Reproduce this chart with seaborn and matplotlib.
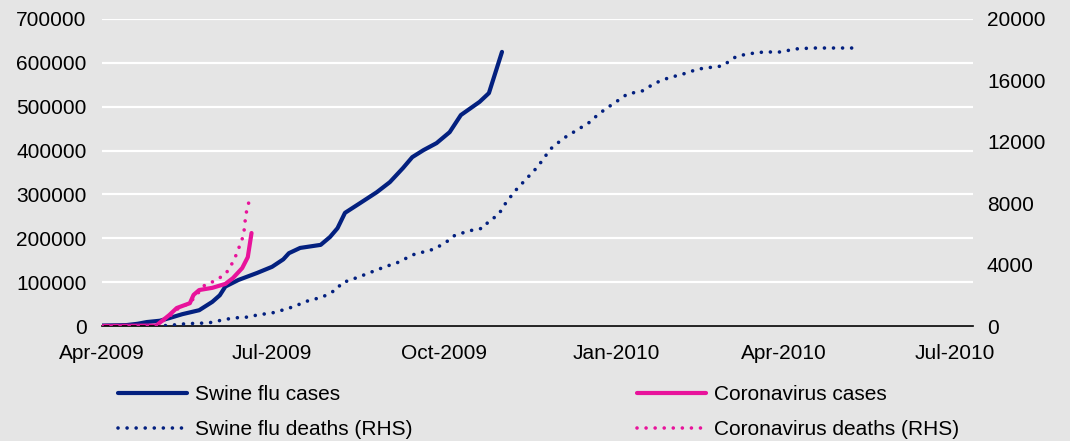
import pandas as pd
import numpy as np
import seaborn as sns
import matplotlib.pyplot as plt
import matplotlib.dates as mdates
from matplotlib.lines import Line2D

# Swine flu cases (LHS)
swine_case_dates = ["2009-04-01", "2009-04-14", "2009-04-20", "2009-04-25", "2009-05-02", "2009-05-07",
                    "2009-05-14", "2009-05-23", "2009-05-30", "2009-06-03", "2009-06-06", "2009-06-13",
                    "2009-06-23", "2009-07-01", "2009-07-07", "2009-07-10", "2009-07-16", "2009-07-27",
                    "2009-08-01", "2009-08-05", "2009-08-09", "2009-08-17", "2009-08-26", "2009-09-02",
                    "2009-09-09", "2009-09-14", "2009-09-20", "2009-09-27", "2009-10-04", "2009-10-10",
                    "2009-10-20", "2009-10-25", "2009-11-01"]
swine_cases = [1000, 2000, 5000, 9000, 12000, 18000, 27000, 36000, 55000, 70000, 90000, 105000,
               121000, 135000, 152000, 166000, 178000, 185000, 203000, 223000, 258000, 280000, 305000, 328000,
               360000, 385000, 401000, 417000, 442000, 481000, 511000, 531000, 625000]

# Swine flu deaths (RHS)
swine_death_dates = ["2009-04-01", "2009-04-30", "2009-05-07", "2009-05-16", "2009-05-28", "2009-06-02",
                     "2009-06-10", "2009-06-19", "2009-06-23", "2009-07-01", "2009-07-05", "2009-07-12",
                     "2009-07-20", "2009-07-28", "2009-08-05", "2009-08-07", "2009-08-12", "2009-08-19",
                     "2009-08-30", "2009-09-07", "2009-09-14", "2009-09-22", "2009-09-26", "2009-10-03",
                     "2009-10-06", "2009-10-14", "2009-10-22", "2009-10-25", "2009-10-30", "2009-11-03",
                     "2009-11-08", "2009-11-14", "2009-11-20", "2009-11-25", "2009-11-28", "2009-12-05",
                     "2009-12-12", "2009-12-19", "2009-12-22", "2009-12-28", "2010-01-04", "2010-01-07",
                     "2010-01-15", "2010-01-22", "2010-01-29", "2010-02-06", "2010-02-14", "2010-02-22",
                     "2010-02-27", "2010-03-02", "2010-03-06", "2010-03-12", "2010-03-21", "2010-03-30",
                     "2010-04-07", "2010-04-16", "2010-05-08"]
swine_deaths = [0, 0, 40, 150, 200, 330, 520, 590, 720, 850, 980, 1240,
                1630, 1890, 2410, 2800, 3000, 3320, 3840, 4170, 4630, 4890, 5020, 5540,
                5860, 6190, 6380, 6840, 7230, 8010, 8800, 9580, 10360, 11200, 11660, 12310,
                12830, 13360, 13750, 14270, 14850, 15110, 15310, 15830, 16160, 16420, 16740, 16870,
                16940, 17200, 17530, 17720, 17850, 17850, 18050, 18110, 18110]

# Coronavirus cases (LHS), aligned on the same day count
corona_case_dates = ["2009-04-01", "2009-04-30", "2009-05-07", "2009-05-11", "2009-05-18", "2009-05-20",
                     "2009-05-23", "2009-05-30", "2009-06-06", "2009-06-10", "2009-06-15", "2009-06-18",
                     "2009-06-20"]
corona_cases = [0, 1000, 25000, 41000, 52000, 71000, 82000, 87000, 96000, 109000, 132000, 157000, 212000]

# Coronavirus deaths (RHS)
corona_death_dates = ["2009-04-01", "2009-04-30", "2009-05-08", "2009-05-12", "2009-05-18", "2009-05-26",
                      "2009-05-30", "2009-06-02", "2009-06-06", "2009-06-08", "2009-06-10", "2009-06-12",
                      "2009-06-15", "2009-06-16", "2009-06-17", "2009-06-18", "2009-06-19"]
corona_deaths = [0, 0, 720, 1170, 1500, 2670, 2870, 3060, 3390, 3710, 4170, 4690,
                 5670, 6190, 7300, 7750, 8340]

labels = ["Swine flu cases", "Swine flu deaths (RHS)", "Coronavirus cases", "Coronavirus deaths (RHS)"]

navy = "#03207F"
pink = "#E8139B"
bg = "#E5E5E5"
dots = (0, (0.01, 2.5))

sns.set_style("white", {"axes.facecolor": bg, "figure.facecolor": bg,
                        "text.color": "black", "xtick.color": "black", "ytick.color": "black"})
plt.rcParams['font.family'] = ['Liberation Sans', 'DejaVu Sans']

fig = plt.figure(figsize=(10.7, 4.41), dpi=100)
ax = fig.add_axes([102 / 1070, 1 - 326 / 441, 871 / 1070, 307 / 441])
ax2 = ax.twinx()
ax2.patch.set_alpha(0)

sns.lineplot(x=pd.to_datetime(swine_case_dates), y=swine_cases, ax=ax, color=navy, lw=3.0)
sns.lineplot(x=pd.to_datetime(corona_case_dates), y=corona_cases, ax=ax, color=pink, lw=3.0)
sns.lineplot(x=pd.to_datetime(swine_death_dates), y=swine_deaths, ax=ax2, color=navy, lw=2.6,
             linestyle=dots, dash_capstyle='round')
sns.lineplot(x=pd.to_datetime(corona_death_dates), y=corona_deaths, ax=ax2, color=pink, lw=2.6,
             linestyle=dots, dash_capstyle='round')

ax.set_xlim(pd.Timestamp("2009-04-01"), pd.Timestamp("2010-07-11"))
ax.set_ylim(0, 700000)
ax2.set_ylim(0, 20000)
ax.set_yticks(np.arange(0, 700001, 100000))
ax2.set_yticks(np.arange(0, 20001, 4000))
ax.xaxis.set_major_locator(mdates.MonthLocator(bymonth=[1, 4, 7, 10]))
ax.xaxis.set_major_formatter(mdates.DateFormatter('%b-%Y'))

ax.yaxis.grid(True, color='white', lw=1.6)
ax.xaxis.grid(False)
ax2.grid(False)
for s in ['top', 'left', 'right']:
    ax.spines[s].set_visible(False)
for s in ax2.spines.values():
    s.set_visible(False)
ax.spines['bottom'].set_color('black')
ax.spines['bottom'].set_linewidth(1.2)

ax.tick_params(axis='x', direction='in', length=4, width=1, color='black', pad=13, labelsize=15)
ax.tick_params(axis='y', length=0, pad=11, labelsize=15)
ax2.tick_params(axis='y', length=0, pad=10, labelsize=15)
ax.set_xlabel("")
ax.set_ylabel("")
ax2.set_ylabel("")

h = [Line2D([], [], color=navy, lw=3.0),
     Line2D([], [], color=navy, lw=2.6, linestyle=dots, dash_capstyle='round'),
     Line2D([], [], color=pink, lw=3.0),
     Line2D([], [], color=pink, lw=2.6, linestyle=dots, dash_capstyle='round')]
kw = dict(loc='center left', frameon=False, fontsize=15, handlelength=3.3, handletextpad=0.4,
          labelspacing=0.75, borderpad=0, borderaxespad=0)
fig.legend(handles=h[:2], labels=labels[:2], bbox_to_anchor=(118 / 1070, 1 - 412 / 441), **kw)
fig.legend(handles=h[2:], labels=labels[2:], bbox_to_anchor=(637 / 1070, 1 - 412 / 441), **kw)

plt.savefig("out.png", dpi=100, facecolor=bg)
